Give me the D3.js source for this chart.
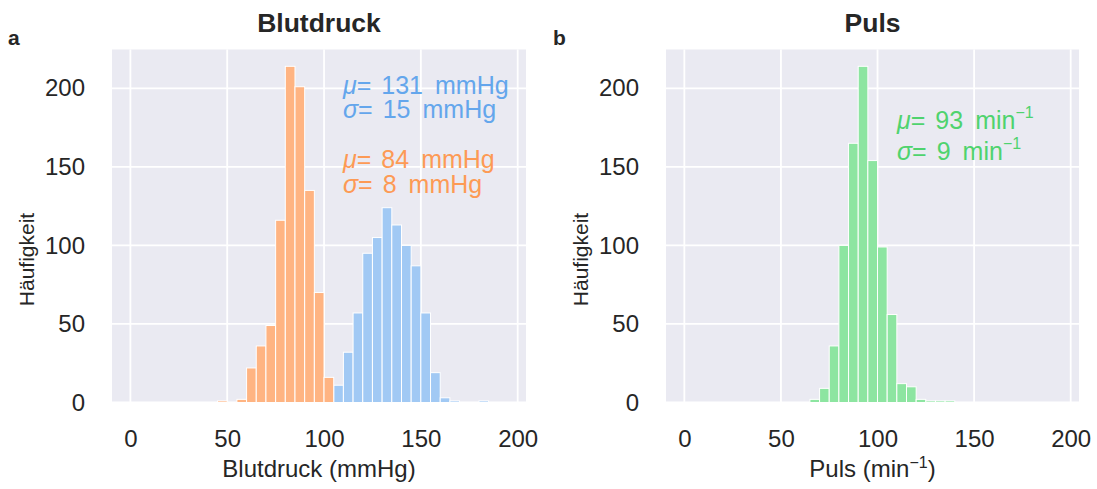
<!DOCTYPE html>
<html>
<head>
<meta charset="utf-8">
<script src="https://cdn.jsdelivr.net/npm/d3@7"></script>
<style>
  body { margin: 0; background: #fff; }
  svg text { font-family: "Liberation Sans", Arial, sans-serif; fill: #262626; }
</style>
</head>
<body>
<script>
// histogram data, bin width 5
const binWidth = 5;
const diaBins = [45, 50, 55, 60, 65, 70, 75, 80, 85, 90, 95, 100];
const diaCounts = [1, 0, 2, 22, 36, 49, 116, 214, 201, 135, 70, 16];
const sysBins = [105, 110, 115, 120, 125, 130, 135, 140, 145, 150, 155, 160, 165, 170, 175, 180];
const sysCounts = [11, 32, 57, 95, 105, 124, 113, 100, 87, 57, 19, 3, 1, 0, 0, 1];
const pulseBins = [65, 70, 75, 80, 85, 90, 95, 100, 105, 110, 115, 120, 125, 130, 135];
const pulseCounts = [2, 9, 36, 100, 165, 214, 154, 99, 56, 12, 10, 2, 1, 1, 1];

const xTicks = [0, 50, 100, 150, 200];
const yTicks = [0, 50, 100, 150, 200];

const colors = { sys: "#a1c9f4", dia: "#ffb482", pulse: "#8de5a1" };
const textColors = { sys: "#64a6ec", dia: "#fd9a55", pulse: "#4fd36e" };

const width = 1097, height = 489;
const plotTop = 49.5, plotBottom = 402.5;

const svg = d3.select("body").append("svg").attr("width", width).attr("height", height);

function panel(left, right, opts) {
  const x = d3.scaleLinear().domain([-9.5, 204.3]).range([left, right]);
  const y = d3.scaleLinear().domain([0, 224.7]).range([plotBottom, plotTop]);
  const g = svg.append("g");

  g.append("rect")
    .attr("x", left).attr("y", plotTop)
    .attr("width", right - left).attr("height", plotBottom - plotTop)
    .attr("fill", "#eaeaf2");

  // grid
  g.append("g").selectAll("line").data(xTicks).join("line")
    .attr("x1", d => x(d)).attr("x2", d => x(d))
    .attr("y1", plotTop).attr("y2", plotBottom)
    .attr("stroke", "#fff").attr("stroke-width", 1.8);
  g.append("g").selectAll("line").data(yTicks).join("line")
    .attr("x1", left).attr("x2", right)
    .attr("y1", d => y(d)).attr("y2", d => y(d))
    .attr("stroke", "#fff").attr("stroke-width", 1.8);

  // bars
  opts.series.forEach(s => {
    const data = s.bins.map((b, i) => ({ b, c: s.counts[i] })).filter(d => d.c > 0);
    g.append("g").selectAll("rect").data(data).join("rect")
      .attr("x", d => x(d.b))
      .attr("width", d => x(d.b + binWidth) - x(d.b))
      .attr("y", d => y(d.c))
      .attr("height", d => y(0) - y(d.c))
      .attr("fill", s.color)
      .attr("stroke", "#fff")
      .attr("stroke-width", 1);
  });

  // axes (no tick marks, seaborn style)
  const xAxis = d3.axisBottom(x).tickValues(xTicks).tickSize(0).tickPadding(27);
  g.append("g").attr("transform", `translate(0,${plotBottom})`).call(xAxis)
    .call(a => a.select(".domain").remove())
    .selectAll("text").attr("font-size", 24).attr("fill", "#262626")
    .style("font-family", '"Liberation Sans", Arial, sans-serif');

  const yAxis = d3.axisLeft(y).tickValues(yTicks).tickSize(0).tickPadding(27);
  g.append("g").attr("transform", `translate(${left},0)`).call(yAxis)
    .call(a => a.select(".domain").remove())
    .selectAll("text").attr("font-size", 24).attr("fill", "#262626")
    .style("font-family", '"Liberation Sans", Arial, sans-serif');

  // title
  g.append("text")
    .attr("x", (left + right) / 2).attr("y", 32)
    .attr("text-anchor", "middle")
    .attr("font-size", 26.5).attr("font-weight", "bold")
    .text(opts.title);

  // panel letter
  g.append("text")
    .attr("x", opts.letterX).attr("y", 45)
    .attr("font-size", 21).attr("font-weight", "bold")
    .text(opts.letter);

  // x label
  const xl = g.append("text")
    .attr("x", (left + right) / 2).attr("y", 477)
    .attr("text-anchor", "middle")
    .attr("font-size", 24);
  opts.xLabel(xl);

  // y label
  g.append("text")
    .attr("transform", `translate(${left - 78},259.5) rotate(-90)`)
    .attr("text-anchor", "middle")
    .attr("font-size", 21)
    .text("Häufigkeit");

  return { x, y, g };
}

function stat(g, px, py, sym, value, unit, color, sup) {
  const t = g.append("text").attr("x", px).attr("y", py)
    .attr("font-size", 25).style("fill", color);
  t.append("tspan").attr("font-style", "italic").text(sym);
  t.append("tspan").text("=");
  t.append("tspan").attr("dx", 10).text(value);
  t.append("tspan").attr("dx", 12).text(unit);
  if (sup) {
    t.append("tspan").attr("font-size", 16).attr("dy", -11).text("\u22121");
  }
}

const a = panel(112, 526, {
  title: "Blutdruck", letter: "a", letterX: 8,
  series: [
    { bins: sysBins, counts: sysCounts, color: colors.sys },
    { bins: diaBins, counts: diaCounts, color: colors.dia }
  ],
  xLabel: t => t.text("Blutdruck (mmHg)")
});
stat(a.g, 343, 94, "\u03bc", "131", "mmHg", textColors.sys);
stat(a.g, 343, 118, "\u03c3", "15", "mmHg", textColors.sys);
stat(a.g, 343, 168, "\u03bc", "84", "mmHg", textColors.dia);
stat(a.g, 343, 193, "\u03c3", "8", "mmHg", textColors.dia);

const b = panel(666, 1079, {
  title: "Puls", letter: "b", letterX: 553,
  series: [{ bins: pulseBins, counts: pulseCounts, color: colors.pulse }],
  xLabel: t => {
    t.append("tspan").text("Puls (min");
    t.append("tspan").attr("font-size", 16).attr("dy", -9).text("\u22121");
    t.append("tspan").attr("dy", 9).text(")");
  }
});
stat(b.g, 897, 129, "\u03bc", "93", "min", textColors.pulse, true);
stat(b.g, 897, 160, "\u03c3", "9", "min", textColors.pulse, true);
</script>
</body>
</html>
